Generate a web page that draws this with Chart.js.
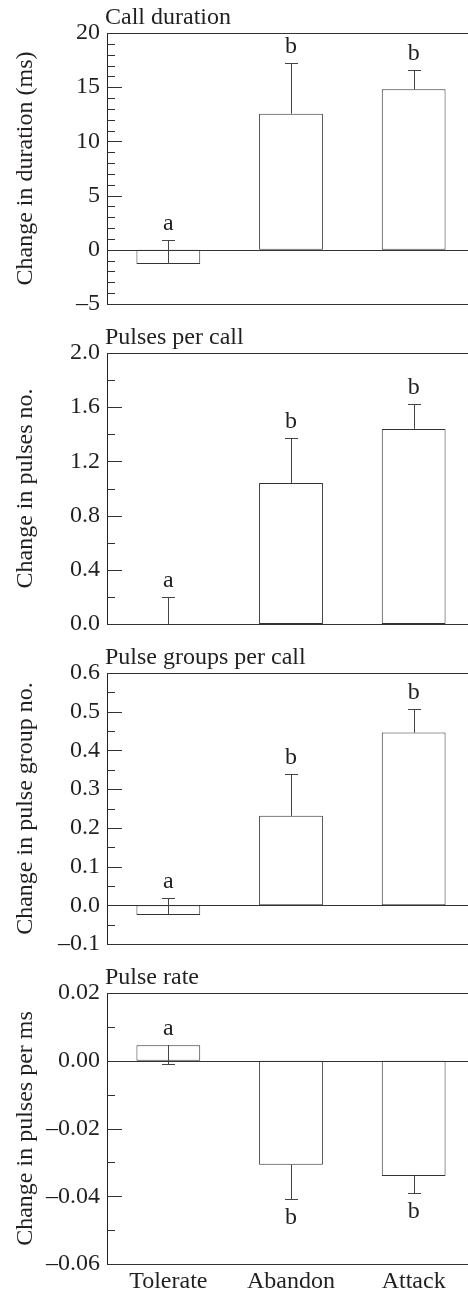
<!DOCTYPE html>
<html><head><meta charset="utf-8">
<script src="https://cdn.jsdelivr.net/npm/chart.js@4/dist/chart.umd.min.js"></script>
<style>
html,body{margin:0;padding:0;background:#fff;overflow:hidden;width:468px;height:1291px;}
#wrap{position:relative;width:468px;height:1291px;overflow:hidden;}
canvas{position:absolute;left:0;}
</style></head><body>
<div id="wrap">
<canvas id="c0" width="480" height="320" style="top:0px"></canvas>
<canvas id="c1" width="480" height="320" style="top:320px"></canvas>
<canvas id="c2" width="480" height="320" style="top:640px"></canvas>
<canvas id="c3" width="480" height="331" style="top:960px"></canvas>
</div>
<script>
// ---- data ----
const categories = ['Tolerate', 'Abandon', 'Attack'];

const durationMean   = [-1.3, 12.55, 14.8];
const durationErrEnd = [0.9, 17.2, 16.6];
const durationLetters = ['a', 'b', 'b'];
const durationTicks  = [-5, 0, 5, 10, 15, 20];
const durationTickLabels = ['\u20135', '0', '5', '10', '15', '20'];

const pulsesMean   = [0.0, 1.04, 1.44];
const pulsesErrEnd = [0.2, 1.37, 1.62];
const pulsesLetters = ['a', 'b', 'b'];
const pulsesTicks  = [0, 0.4, 0.8, 1.2, 1.6, 2.0];
const pulsesTickLabels = ['0.0', '0.4', '0.8', '1.2', '1.6', '2.0'];

const groupsMean   = [-0.025, 0.231, 0.446];
const groupsErrEnd = [0.02, 0.34, 0.506];
const groupsLetters = ['a', 'b', 'b'];
const groupsTicks  = [-0.1, 0, 0.1, 0.2, 0.3, 0.4, 0.5, 0.6];
const groupsTickLabels = ['\u20130.1', '0.0', '0.1', '0.2', '0.3', '0.4', '0.5', '0.6'];

const rateMean   = [0.0046, -0.0307, -0.034];
const rateErrEnd = [-0.0009, -0.0407, -0.0389];
const rateLetters = ['a', 'b', 'b'];
const rateTicks  = [-0.06, -0.04, -0.02, 0, 0.02];
const rateTickLabels = ['\u20130.06', '\u20130.04', '\u20130.02', '0.00', '0.02'];

// ---- styling ----
const FONT = 'Liberation Serif';
const FS = 24;
const TXT = '#231f20';
const LINE = '#333';

const panelPlugin = {
  id: 'panelDeco',
  afterDatasetsDraw(chart, args, opts) {
    const ctx = chart.ctx;
    const ca = chart.chartArea;
    const y = chart.scales.y;
    const W = chart.width;
    ctx.save();
    ctx.strokeStyle = LINE;
    ctx.lineWidth = 1;
    const hline = (py) => {
      const yy = Math.round(py) + 0.5;
      ctx.beginPath(); ctx.moveTo(ca.left, yy); ctx.lineTo(W, yy); ctx.stroke();
    };
    hline(ca.top);
    hline(ca.bottom);
    if (y.min < 0 && y.max > 0) hline(y.getPixelForValue(0));
    // inward ticks
    y.ticks.forEach(t => {
      const yy = Math.round(y.getPixelForValue(t.value)) + 0.5;
      const len = t.label ? 15 : 8;
      ctx.beginPath(); ctx.moveTo(ca.left, yy); ctx.lineTo(ca.left + len, yy); ctx.stroke();
    });
    // error bars
    const meta = chart.getDatasetMeta(0);
    ctx.strokeStyle = '#444';
    opts.mean.forEach((m, i) => {
      const x = Math.round(meta.data[i].x) + 0.5;
      const y1 = y.getPixelForValue(m);
      const y2 = Math.round(y.getPixelForValue(opts.errEnd[i])) + 0.5;
      ctx.beginPath(); ctx.moveTo(x, y1); ctx.lineTo(x, y2); ctx.stroke();
      ctx.beginPath(); ctx.moveTo(x - 6.5, y2); ctx.lineTo(x + 6.5, y2); ctx.stroke();
    });
    // letters
    ctx.fillStyle = TXT;
    ctx.font = FS + 'px "' + FONT + '"';
    ctx.textAlign = 'center';
    ctx.textBaseline = 'alphabetic';
    opts.mean.forEach((m, i) => {
      const e = opts.errEnd[i];
      const x = meta.data[i].x;
      const below = m < 0 && e < m;
      if (below) {
        ctx.fillText(opts.letters[i], x, y.getPixelForValue(Math.min(m, e)) + 25);
      } else {
        ctx.fillText(opts.letters[i], x, y.getPixelForValue(Math.max(m, e)) - 10);
      }
    });
    // panel title
    ctx.textAlign = 'left';
    ctx.fillText(opts.title, 105, ca.top - 9);
    ctx.restore();
  }
};

function makePanel(id, cfg) {
  const tv = cfg.ticks;
  const min = tv[0], max = tv[tv.length - 1];
  const step = cfg.minorStep;
  const nSteps = Math.round((max - min) / step);
  new Chart(document.getElementById(id), {
    type: 'bar',
    data: {
      labels: categories,
      datasets: [{
        data: cfg.mean,
        backgroundColor: '#ffffff',
        borderColor: LINE,
        borderWidth: 1,
        borderSkipped: false,
        barPercentage: 0.52,
        categoryPercentage: 1.0
      }]
    },
    options: {
      responsive: false,
      animation: false,
      events: [],
      layout: { padding: { top: 33, right: 5, bottom: cfg.showX ? 0 : 16, left: 0 } },
      plugins: {
        legend: { display: false },
        tooltip: { enabled: false },
        title: { display: false },
        panelDeco: { mean: cfg.mean, errEnd: cfg.errEnd, letters: cfg.letters, title: cfg.title }
      },
      scales: {
        x: {
          display: cfg.showX,
          offset: true,
          grid: { display: false, drawTicks: false },
          border: { display: false },
          ticks: { color: TXT, font: { family: FONT, size: FS }, padding: 3, maxRotation: 0 },
          afterFit(s) { if (cfg.showX) s.height = 27; }
        },
        y: {
          min: min, max: max,
          grid: { display: false, drawTicks: false },
          border: { display: true, color: '#222', width: 1 },
          afterBuildTicks(s) {
            const arr = [];
            for (let k = 0; k <= nSteps; k++) arr.push({ value: +(min + k * step).toFixed(6) });
            s.ticks = arr;
          },
          ticks: {
            autoSkip: false,
            padding: 7,
            color: TXT,
            font: { family: FONT, size: FS },
            callback(v) {
              const i = tv.findIndex(t => Math.abs(t - v) < step * 1e-3);
              return i >= 0 ? cfg.tickLabels[i] : '';
            }
          },
          title: {
            display: true, text: cfg.yTitle, color: TXT,
            font: { family: FONT, size: FS },
            padding: { top: 11, bottom: 0 }
          },
          afterFit(s) { s.width = 107; s.paddingTop = 0; s.paddingBottom = 0; }
        }
      }
    },
    plugins: [panelPlugin]
  });
}

makePanel('c0', { title: 'Call duration', yTitle: 'Change in duration (ms)', mean: durationMean, errEnd: durationErrEnd, letters: durationLetters, ticks: durationTicks, tickLabels: durationTickLabels, minorStep: 1, showX: false });
makePanel('c1', { title: 'Pulses per call', yTitle: 'Change in pulses no.', mean: pulsesMean, errEnd: pulsesErrEnd, letters: pulsesLetters, ticks: pulsesTicks, tickLabels: pulsesTickLabels, minorStep: 0.2, showX: false });
makePanel('c2', { title: 'Pulse groups per call', yTitle: 'Change in pulse group no.', mean: groupsMean, errEnd: groupsErrEnd, letters: groupsLetters, ticks: groupsTicks, tickLabels: groupsTickLabels, minorStep: 0.05, showX: false });
makePanel('c3', { title: 'Pulse rate', yTitle: 'Change in pulses per ms', mean: rateMean, errEnd: rateErrEnd, letters: rateLetters, ticks: rateTicks, tickLabels: rateTickLabels, minorStep: 0.01, showX: true });
</script>
</body></html>
